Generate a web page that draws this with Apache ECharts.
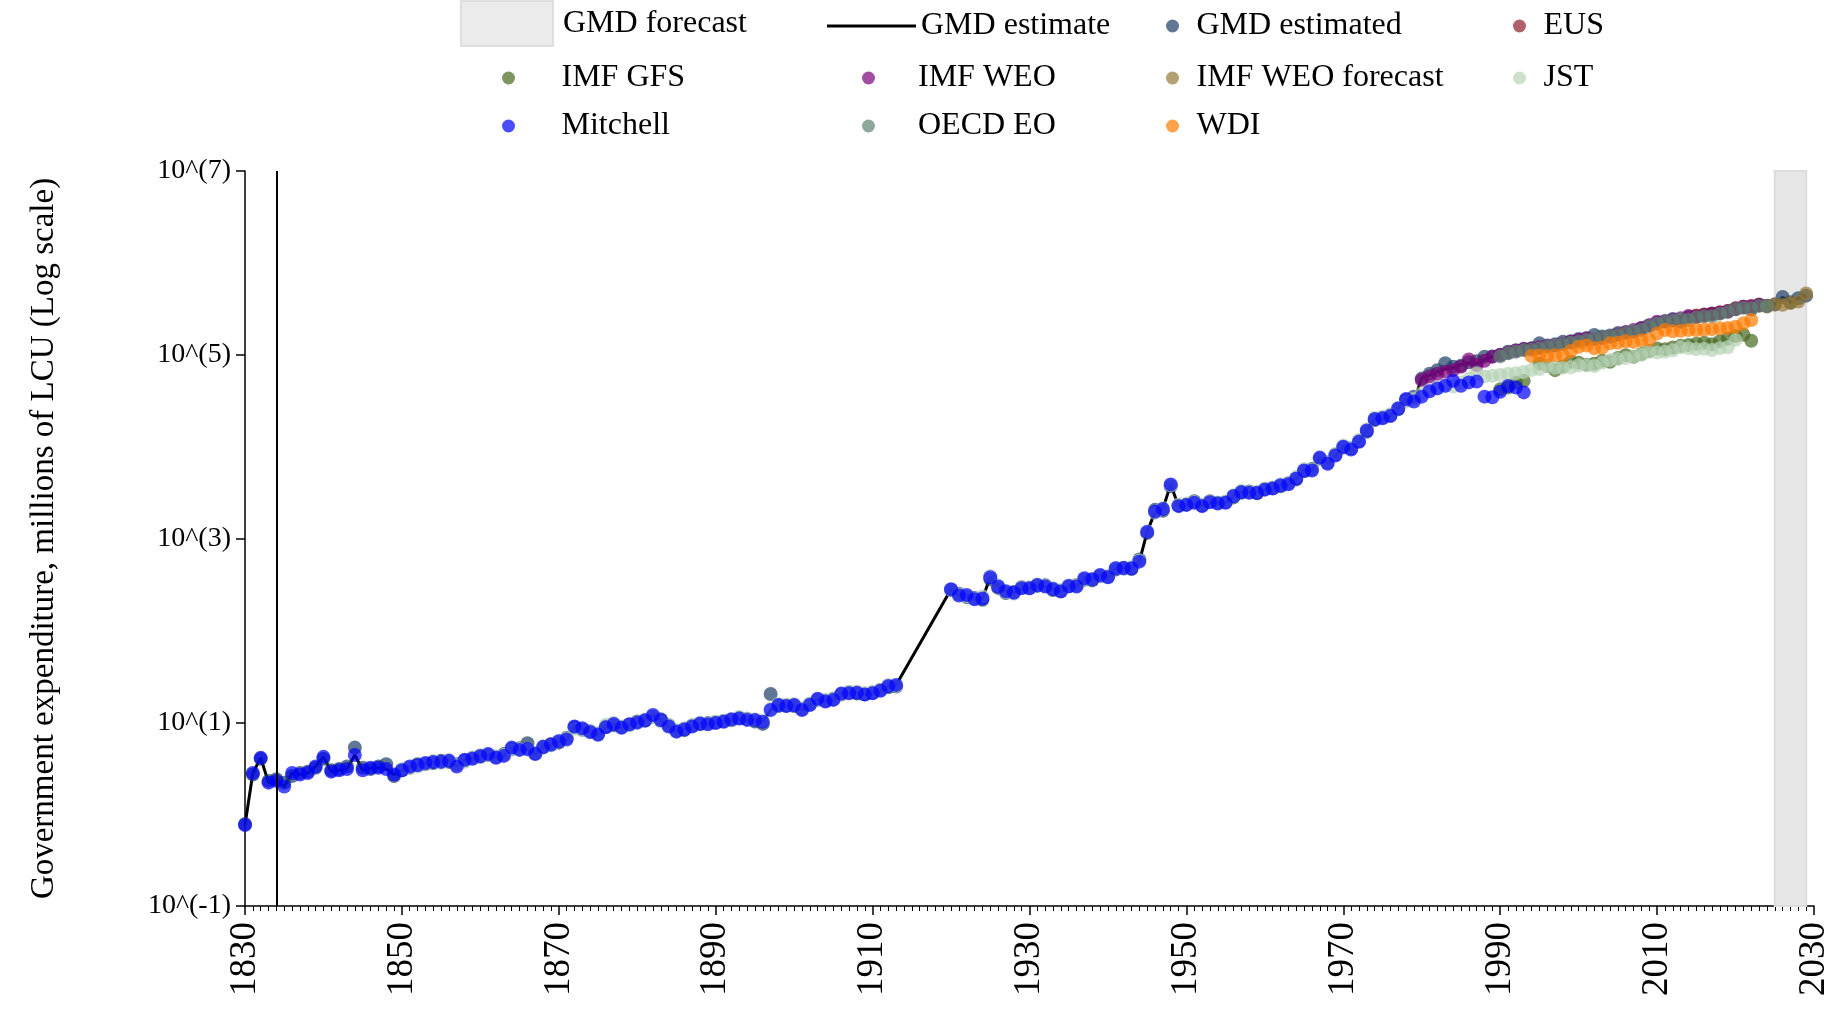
<!DOCTYPE html>
<html>
<head>
<meta charset="utf-8">
<title>Government expenditure</title>
<script src="https://cdn.jsdelivr.net/npm/echarts@6/dist/echarts.min.js"></script>
<style>
  html, body { margin: 0; padding: 0; background: #fff; }
  #visualisation { width: 1837px; height: 1010px; }
</style>
</head>
<body>
<div id="visualisation"></div>
<script>
// Axis ticks
const yearTicks = [1830, 1850, 1870, 1890, 1910, 1930, 1950, 1970, 1990, 2010, 2030];
const logTicks = [0.1, 10, 1000, 100000, 10000000];

// Forecast band and the break in the estimate line
const forecastYears = [2025, 2029];
const breakYears = [1834];

// GMD estimate (line), from 1830
const gmdLineStart = 1830;
const gmdLine = [
  0.76, 2.8, 4.1, 2.2, 2.3, 2.0, 2.8, 2.7, 2.8, 3.3,
  4.2, 2.9, 3.0, 3.1, 4.4, 3.0, 3.2, 3.2, 3.1, 2.7,
  3.0, 3.3, 3.4, 3.6, 3.7, 3.7, 3.8, 3.3, 3.9, 4.0,
  4.3, 4.5, 4.1, 4.3, 5.3, 5.0, 5.1, 4.5, 5.4, 5.7,
  6.2, 6.5, 9.0, 8.6, 7.8, 7.3, 8.8, 9.6, 8.7, 9.5,
  9.9, 10.5, 12.0, 10.5, 9.0, 7.9, 8.4, 9.0, 9.7, 9.5,
  9.8, 10.1, 10.8, 11.0, 10.6, 10.6, 10.1, 13.6, 15.4, 15.0,
  15.4, 13.6, 15.4, 18.0, 16.8, 17.5, 20.5, 20.7, 21.0, 20.0,
  20.7, 22.0, 24.8, 25.5, null, null, null, null, null, null,
  280, 240, 243, 218, 222, 378, 300, 267, 257, 287,
  287, 312, 300, 282, 265, 304, 300, 369, 360, 401,
  378, 474, 474, 474, 560, 1180, 1950, 2100, 3880, 2250,
  2320, 2450, 2250, 2480, 2400, 2450, 2900, 3200, 3150, 3150,
  3400, 3500, 3800, 3900, 4500, 5500, 5500, 7600, 6500, 8000,
  10000, 9300, 11300, 15000, 20000, 20300, 21500, 26000, 33000, 31000,
  56000, 60000, 65500, 70000, 72000, 78000, 82000, 80000, 88000, 95000,
  99000, 106000, 111000, 115000, 117000, 120000, 124000, 128000, 133000, 139000,
  146000, 151000, 152000, 156000, 160000, 170000, 180000, 186000, 195000, 210000,
  225000, 235000, 240000, 252000, 262000, 265000, 270000, 278000, 288000, 300000,
  320000, 332000, 342000, 350000, 342000, 352000, 420000, 372000, 412000, 440000
];

// GMD estimated (points), from 1830
const gmdEstStart = 1830;
const gmdEst = [
  0.78, 2.7, 4.0, 2.3, 2.4, 2.2, 2.6, 2.8, 2.9, 3.2,
  4.0, 3.0, 3.1, 3.3, 5.3, 3.2, 3.1, 3.3, 3.5, 2.6,
  3.0, 3.2, 3.5, 3.5, 3.6, 3.8, 3.7, 3.5, 3.8, 4.1,
  4.2, 4.4, 4.2, 4.5, 5.1, 5.2, 5.9, 4.6, 5.3, 5.8,
  6.0, 6.8, 8.8, 8.3, 8.0, 7.5, 9.0, 9.3, 8.9, 9.4,
  10.2, 10.4, 11.5, 10.8, 9.3, 8.1, 8.2, 9.2, 9.5, 9.8,
  10.0, 10.3, 10.5, 11.2, 10.9, 10.2, 9.6, 20.3, 15.0, 15.2,
  15.0, 14.0, 15.8, 17.5, 17.2, 18.0, 20.0, 21.2, 20.5, 20.2,
  21.0, 22.5, 24.0, 24.5, null, null, null, null, null, null,
  275, 250, 230, 225, 215, 360, 290, 255, 262, 295,
  290, 305, 310, 275, 270, 300, 310, 355, 350, 390,
  385, 460, 480, 465, 590, 1150, 2050, 2000, 3700, 2300,
  2350, 2550, 2300, 2550, 2450, 2500, 2800, 3150, 3250, 3100,
  3450, 3550, 3700, 4000, 4400, 5400, 5700, 7400, 6700, 8200,
  9800, 9600, 11500, 14500, 19500, 20800, 22000, 25500, 32000, 35000,
  55000, 62000, 68000, 80700, 74000, 76000, 83000, 85000, 95300, 96000,
  100000, 108000, 112000, 116000, 118000, 133000, 126000, 130000, 138700, 140000,
  148000, 150000, 164000, 158000, 162000, 172000, 176000, 178000, 196000, 208000,
  222000, 232000, 245000, 229000, 258000, 262000, 272000, 280000, 285000, 298000,
  318000, 330000, 312000, 352000, 342000, 352000, 425000, 372000, 412000, 440000
];

// EUS, from 2015
const eusStart = 2015;
const eus = [268000, 275000, 282000, 290000, 300000, 320000, 332000, 340000, 348000];

// IMF GFS, from 1990
const imfGfsStart = 1990;
const imfGfs = [
  42000, 44000, 50000, 52000, null, 80000, 76000, 68000, 75000, 84000,
  82000, 78000, 80000, 86000, 84000, 92000, 99000, 95000, 102000, 110000,
  117000, 115000, 120000, 125000, 128000, 132000, 135000, 130000, 140000, 150000,
  160000, 165000, 142000
];

// IMF WEO, from 1980
const imfWeoStart = 1980;
const imfWeo = [
  53000, 58000, 62000, 65500, 68000, 74200, 89000, 77300, 86000, 95300,
  99400, 105000, 110700, 114600, 116000, 120500, 124000, 126000, 132000, 138700,
  145000, 151000, 148000, 152000, 157400, 166000, 176000, 186000, 194000, 210000,
  229000, 232000, 239000, 250000, 264000, 258000, 268000, 275000, 287000, 295000,
  312000, 333000, 335000, 345000, 340000
];

// IMF WEO forecast, from 2024
const imfWeoFcStart = 2024;
const imfWeoFc = [335000, 355000, 350000, 365000, 380000, 465000];

// JST, from 1850
const jstStart = 1850;
const jst = [
  3.1, 3.2, 3.3, 3.5, 3.8, 3.6, 3.9, 3.4, 3.7, 4.1,
  4.4, 4.4, 4.2, 4.4, 5.0, 5.1, 5.0, 4.7, 5.5, 5.6,
  6.3, 6.7, 8.5, 8.2, 8.0, 7.6, 9.4, 9.9, 9.0, 9.2,
  10.0, 10.8, 11.4, 10.2, 9.2, 8.2, 8.6, 9.3, 9.9, 9.7,
  10.2, 10.4, 10.6, 11.4, 10.9, 10.8, 10.4, 14.0, 15.8, 15.6,
  15.8, 14.2, 16.0, 17.5, 17.5, 18.2, 20.0, 21.5, 21.8, 20.8,
  21.5, 22.5, 25.5, 25.0, null, null, null, null, null, null,
  275, 245, 235, 220, 235, 390, 310, 262, 250, 295,
  295, 318, 305, 290, 275, 310, 305, 360, 365, 395,
  385, 480, 465, 490, 575, 1200, 1900, 2150, 3800, 2350,
  2400, 2500, 2350, 2520, 2450, 2520, 2950, 3300, 3200, 3250,
  3500, 3600, 3900, 4000, 4700, 5700, 5600, 7400, 6800, 8300,
  10300, 9800, 11800, 15500, 20500, 21000, 22500, 26500, 31000, 33000,
  38000, 41000, 44000, 46000, 45000, 50000, 55000, 62800, 58000, 59000,
  60300, 62000, 63000, 65000, 68300, 70000, 75500, 72000, 72000, 73000,
  77000, 77000, 75500, 82000, 87700, 90000, 92000, 95300, 100000, 108000,
  106000, 108000, 112000, 120500, 118000, 115000, 116000, 112800, 118000, 120500,
  145000
];

// Mitchell, from 1830
const mitchellStart = 1830;
const mitchell = [
  0.76, 2.8, 4.1, 2.2, 2.3, 2.0, 2.8, 2.7, 2.8, 3.3,
  4.2, 2.9, 3.0, 3.1, 4.4, 3.0, 3.2, 3.2, 3.1, 2.7,
  3.0, 3.3, 3.4, 3.6, 3.7, 3.7, 3.8, 3.3, 3.9, 4.0,
  4.3, 4.5, 4.1, 4.3, 5.3, 5.0, 5.1, 4.5, 5.4, 5.7,
  6.2, 6.5, 9.0, 8.6, 7.8, 7.3, 8.8, 9.6, 8.7, 9.5,
  9.9, 10.5, 12.0, 10.5, 9.0, 7.9, 8.4, 9.0, 9.7, 9.5,
  9.8, 10.1, 10.8, 11.0, 10.6, 10.6, 10.1, 13.6, 15.4, 15.0,
  15.4, 13.6, 15.4, 18.0, 16.8, 17.5, 20.5, 20.7, 21.0, 20.0,
  20.7, 22.0, 24.8, 25.5, null, null, null, null, null, null,
  280, 240, 243, 218, 222, 378, 300, 267, 257, 287,
  287, 312, 300, 282, 265, 304, 300, 369, 360, 401,
  378, 474, 474, 474, 560, 1180, 1950, 2100, 3880, 2250,
  2320, 2450, 2250, 2480, 2400, 2450, 2900, 3200, 3150, 3150,
  3400, 3500, 3800, 3900, 4500, 5500, 5500, 7600, 6500, 8000,
  10000, 9300, 11300, 15000, 20000, 20300, 21500, 26000, 33000, 31000,
  35000, 40000, 43000, 46000, 52000, 46000, 50000, 51000, 35000, 34500,
  39600, 45700, 44000, 38900
];

// OECD EO, from 1990
const oecdStart = 1990;
const oecd = [
  96000, 104000, 108000, 112000, 113000, 118000, 122000, 127000, 131000, 135000,
  138700, 145000, 150000, 155000, 160000, 164000, 172000, 180000, 186000, 205000,
  218000, 229000, 234000, 245000, 239000, 255000, 262000, 262000, 280000, 292000,
  315000, 325000, 321000, 340000, 338000
];

// WDI, from 1994
const wdiStart = 1994;
const wdi = [
  97000, 98000, 97000, 99000, 99400, 110000, 122000, 126000, 117500, 120000,
  133000, 135000, 140000, 138000, 144000, 146000, 170000, 186000, 180000, 182000,
  186000, 186000, 188000, 190000, 194000, 196000, 202000, 220000, 239000
];

// Koppel jaartallen aan waarden.
function pairs(start, values) {
  let out = [];
  values.forEach((v, i) => { if (v != null) out.push([start + i, v]); });
  return out;
}

function drawVisualisation() {
  let visualisation = echarts.init(document.getElementById('visualisation'));
  const font = 'Liberation Serif';

  const dots = (name, color, start, values) => ({
    name: name,
    type: 'scatter',
    symbol: 'circle',
    symbolSize: 14,
    z: 3,
    itemStyle: { color: color, opacity: 0.7 },
    data: pairs(start, values)
  });

  // Eén legende per item, zodat de plaats klopt.
  const legendItem = (name, left, top, w, h, icon, padLeft) => ({
    data: [icon ? { name: name, icon: icon } : name],
    left: left, top: top,
    itemWidth: w, itemHeight: h,
    padding: 0,
    selectedMode: false,
    textStyle: {
      fontFamily: font, fontSize: 32, color: '#000', lineHeight: 36,
      padding: [0, 0, 0, padLeft || 0]
    }
  });

  let option = {
    animation: false,
    backgroundColor: '#fff',
    grid: { left: 245, right: 23, top: 171, bottom: 104 },
    legend: [
      legendItem('GMD forecast', 460, 0, 92, 45, 'rect', 5),
      legendItem('GMD estimate', 827, 8, 89, 3, 'rect'),
      legendItem('GMD estimated', 1166, 8, 38, 13),
      legendItem('EUS', 1513, 8, 38, 13),
      legendItem('IMF GFS', 502, 60, 96, 13),
      legendItem('IMF WEO', 862, 60, 89, 13),
      legendItem('IMF WEO forecast', 1166, 60, 38, 13),
      legendItem('JST', 1513, 60, 38, 13),
      legendItem('Mitchell', 502, 108, 96, 13),
      legendItem('OECD EO', 862, 108, 89, 13),
      legendItem('WDI', 1166, 108, 38, 13)
    ],
    xAxis: {
      type: 'value',
      min: yearTicks[0],
      max: yearTicks[yearTicks.length - 1],
      interval: 20,
      splitLine: { show: false },
      axisLine: { onZero: false, lineStyle: { color: '#000', width: 1.5 } },
      axisTick: { length: 9, lineStyle: { color: '#000', width: 1.5 } },
      minorTick: { show: true, splitNumber: 20, length: 5, lineStyle: { color: '#000', width: 1 } },
      axisLabel: {
        rotate: 90, margin: 16, color: '#000', fontFamily: font, fontSize: 37,
        formatter: v => String(v)
      }
    },
    yAxis: {
      type: 'log',
      logBase: 10,
      min: logTicks[0],
      max: logTicks[logTicks.length - 1],
      interval: 2,
      name: 'Government expenditure, millions of LCU (Log scale)',
      nameLocation: 'middle',
      nameGap: 184,
      nameTextStyle: { fontFamily: font, fontSize: 33, color: '#000' },
      splitLine: { show: false },
      axisLine: { show: true, lineStyle: { color: '#000', width: 1.5 } },
      axisTick: { show: true, length: 9, lineStyle: { color: '#000', width: 1.5 } },
      axisLabel: {
        color: '#000', fontFamily: font, fontSize: 28, margin: 14,
        formatter: v => '10^(' + Math.round(Math.log10(v)) + ')'
      }
    },
    series: [
      {
        name: 'GMD forecast',
        type: 'scatter',
        data: [],
        z: 0,
        itemStyle: { color: '#e6e6e6', borderColor: '#dadada', borderWidth: 2 },
        markArea: {
          silent: true,
          itemStyle: { color: '#e6e6e6', borderColor: '#dcdcdc', borderWidth: 2 },
          data: [[{ xAxis: forecastYears[0] }, { xAxis: forecastYears[1] }]]
        }
      },
      {
        name: 'GMD estimate',
        type: 'line',
        symbol: 'none',
        connectNulls: true,
        z: 1,
        lineStyle: { color: '#000', width: 3 },
        itemStyle: { color: '#000' },
        data: pairs(gmdLineStart, gmdLine),
        markLine: {
          silent: true,
          symbol: 'none',
          label: { show: false },
          lineStyle: { color: '#000', width: 2, type: 'solid' },
          data: breakYears.map(y => ({ xAxis: y }))
        }
      },
      dots('GMD estimated', '#1e3f66', gmdEstStart, gmdEst),
      dots('EUS', '#8e1c2a', eusStart, eus),
      dots('IMF GFS', '#45681f', imfGfsStart, imfGfs),
      dots('IMF WEO', '#7a007a', imfWeoStart, imfWeo),
      dots('IMF WEO forecast', '#947733', imfWeoFcStart, imfWeoFc),
      dots('JST', '#b6d3b6', jstStart, jst),
      dots('Mitchell', '#0000ff', mitchellStart, mitchell),
      dots('OECD EO', '#5f8372', oecdStart, oecd),
      dots('WDI', '#ff7a00', wdiStart, wdi)
    ]
  };

  visualisation.setOption(option);
}

window.addEventListener('load', drawVisualisation);
</script>
</body>
</html>
